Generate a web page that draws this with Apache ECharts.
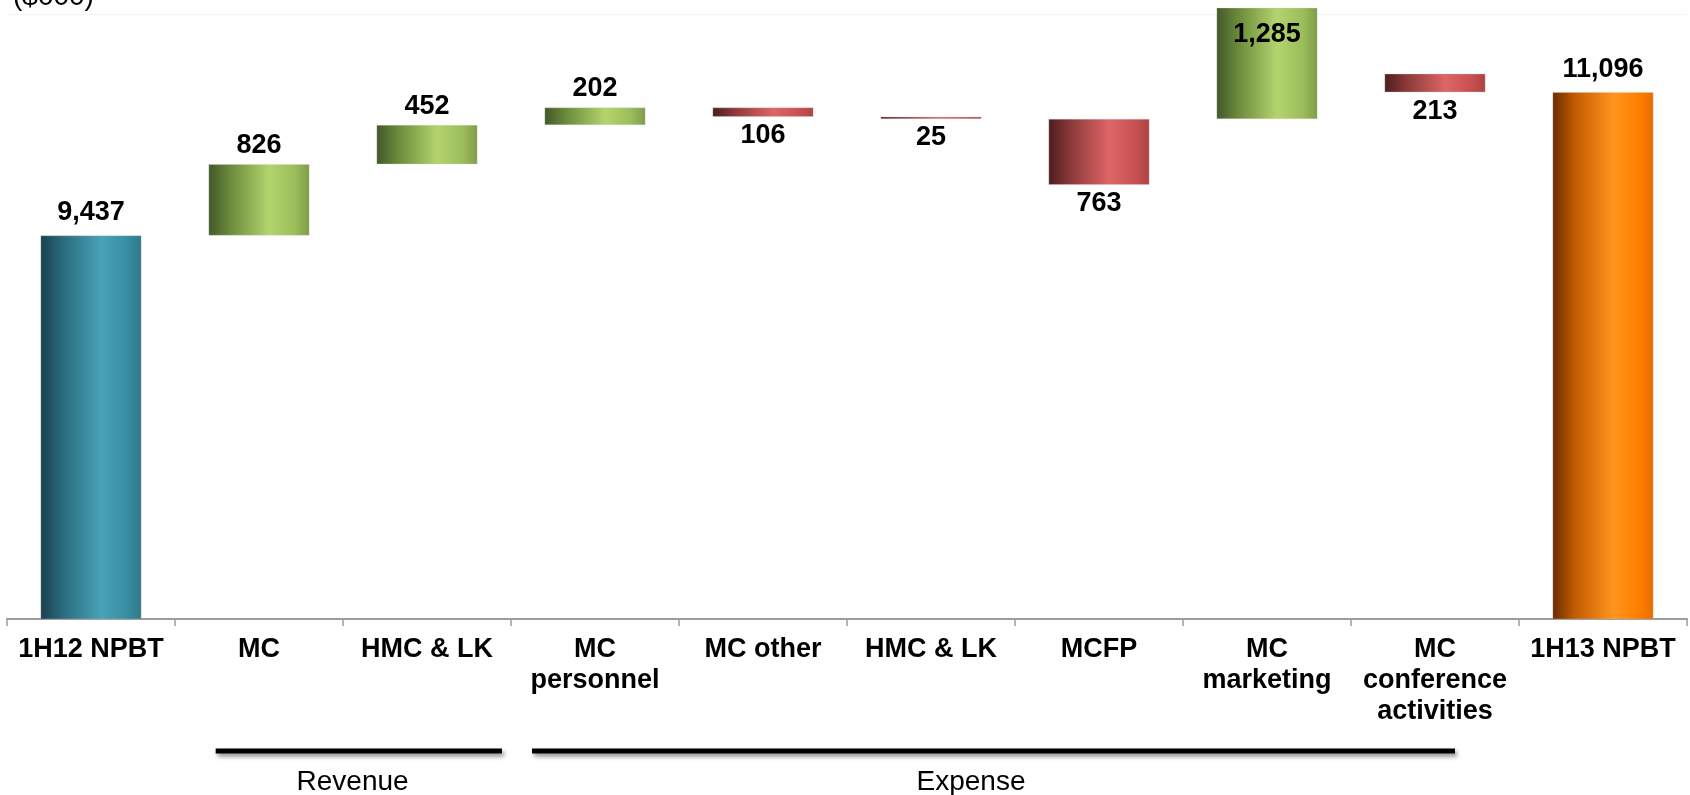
<!DOCTYPE html>
<html>
<head>
<meta charset="utf-8">
<script src="https://cdn.jsdelivr.net/npm/echarts@6/dist/echarts.min.js"></script>
<style>
  html, body { margin: 0; padding: 0; background: #ffffff; }
  #chart { width: 1690px; height: 795px; }
</style>
</head>
<body>
<div id="chart"></div>
<script>
// Categories along the bottom axis
const categories = ['1H12 NPBT', 'MC', 'HMC & LK', 'MC\npersonnel', 'MC other', 'HMC & LK', 'MCFP', 'MC\nmarketing', 'MC\nconference\nactivities', '1H13 NPBT'];
// Kind of each bar: opening/closing total, favourable (up) or unfavourable (down) movement
const kinds = ['total', 'up', 'up', 'up', 'down', 'down', 'down', 'up', 'down', 'total'];
// Amount stated on each bar ($000)
const amounts = [9437, 826, 452, 202, 106, 25, 763, 1285, 213, 11096];
// Lower edge of each floating bar ($000); totals rise from zero
const floors = [0, 9437, 10263, 10715, 10811, 10786, 10023, 10786, 11095, 0];
// Value axis range ($000)
const axisMin = 5000;
const axisMax = 12000;
// Brackets under the axis, in category units (category i is centred on i)
const groupNames = ['Revenue', 'Expense'];
const groupLineFrom = [0.742, 2.625];
const groupLineTo = [2.446, 8.119];
const groupLabelAt = [1.557, 5.238];

const FONT = '"Liberation Sans", Arial, Helvetica, sans-serif';

function hGrad(stops) {
  return new echarts.graphic.LinearGradient(0, 0, 1, 0,
    stops.map(function (s) { return { offset: s[0], color: s[1] }; }));
}
const fills = {
  totalOpen: hGrad([[0, '#1a404c'], [0.22, '#2a6b7d'], [0.6, '#48a2b7'], [0.85, '#3a8ea3'], [1, '#2d788b']]),
  totalClose: hGrad([[0, '#6a2c00'], [0.22, '#c25a00'], [0.6, '#ff951e'], [0.85, '#ff7f00'], [1, '#e96b00']]),
  up: hGrad([[0, '#43582a'], [0.22, '#6c8c3c'], [0.6, '#b3d46d'], [0.85, '#9cbe5b'], [1, '#7f9c48']]),
  down: hGrad([[0, '#4c1d1e'], [0.22, '#8c3a3a'], [0.6, '#dd6565'], [0.85, '#c95151'], [1, '#ad4343']])
};

const fmt = function (v) { return v.toLocaleString('en-US'); };
const labelBase = { show: true, color: '#000', fontFamily: FONT, fontWeight: 'bold', fontSize: 27, lineHeight: 28 };
const border = { borderColor: 'rgba(205,205,205,0.6)', borderWidth: 0.5 };

const totalData = [];
const moveData = [];
for (let i = 0; i < categories.length; i++) {
  if (kinds[i] === 'total') {
    totalData.push({
      value: amounts[i],
      itemStyle: Object.assign({ color: i === 0 ? fills.totalOpen : fills.totalClose }, border),
      label: Object.assign({ position: 'top', distance: 9, formatter: fmt(amounts[i]) }, labelBase)
    });
    moveData.push('-');
  } else {
    const up = kinds[i] === 'up';
    const overTop = floors[i] + amounts[i] > axisMax;
    const pos = up ? (overTop ? 'insideTop' : 'top') : 'bottom';
    moveData.push({
      value: amounts[i],
      itemStyle: Object.assign({ color: up ? fills.up : fills.down }, border),
      label: Object.assign({ position: pos, distance: up ? (overTop ? 13 : 5) : 5, formatter: fmt(amounts[i]) }, labelBase)
    });
    totalData.push('-');
  }
}

const chart = echarts.init(document.getElementById('chart'), null, { renderer: 'canvas' });
chart.setOption({
  animation: false,
  backgroundColor: '#ffffff',
  grid: { left: 7, right: 3, top: 14, bottom: 176, containLabel: false },
  xAxis: {
    type: 'category',
    data: categories,
    axisLine: { lineStyle: { color: '#9c9c9c', width: 2 } },
    axisTick: { show: true, length: 7, lineStyle: { color: '#9c9c9c', width: 1.5 } },
    axisLabel: { interval: 0, margin: 15, color: '#000', fontFamily: FONT, fontWeight: 'bold', fontSize: 27, lineHeight: 31, align: 'center' },
    splitLine: { show: false }
  },
  yAxis: {
    type: 'value',
    min: axisMin,
    max: axisMax,
    interval: axisMax - axisMin,
    axisLine: { show: false },
    axisTick: { show: false },
    axisLabel: { show: false },
    splitLine: { show: true, lineStyle: { color: '#f4f4f4', width: 1 } }
  },
  series: [
    {
      name: 'floor', type: 'bar', stack: 'w', barWidth: '60%', silent: true,
      itemStyle: { color: 'rgba(0,0,0,0)' }, data: floors, clip: true
    },
    {
      name: 'total', type: 'bar', stack: 'w', barWidth: '60%', data: totalData, clip: true
    },
    {
      name: 'movement', type: 'bar', stack: 'w', barWidth: '60%', data: moveData, clip: false
    }
  ]
});

// Unit label and group brackets placed from the axis scale
function catX(u) {
  const x0 = chart.convertToPixel({ xAxisIndex: 0 }, 0);
  const x1 = chart.convertToPixel({ xAxisIndex: 0 }, 1);
  return x0 + u * (x1 - x0);
}
const axisY = chart.convertToPixel({ yAxisIndex: 0 }, axisMin);
const graphics = [{
  type: 'text', left: 13, top: -17,
  style: { text: '($000)', fontFamily: FONT, fontSize: 28, fill: '#000' }
}];
for (let g = 0; g < groupNames.length; g++) {
  graphics.push({
    type: 'line',
    shape: { x1: catX(groupLineFrom[g]), y1: axisY + 132, x2: catX(groupLineTo[g]), y2: axisY + 132 },
    style: { stroke: '#000', lineWidth: 5, shadowColor: 'rgba(0,0,0,0.45)', shadowBlur: 4, shadowOffsetX: 2, shadowOffsetY: 3 }
  });
  graphics.push({
    type: 'text', x: catX(groupLabelAt[g]), y: axisY + 149,
    style: { text: groupNames[g], fontFamily: FONT, fontSize: 28, fill: '#000', textAlign: 'center', textVerticalAlign: 'top' }
  });
}
chart.setOption({ graphic: graphics });
</script>
</body>
</html>
